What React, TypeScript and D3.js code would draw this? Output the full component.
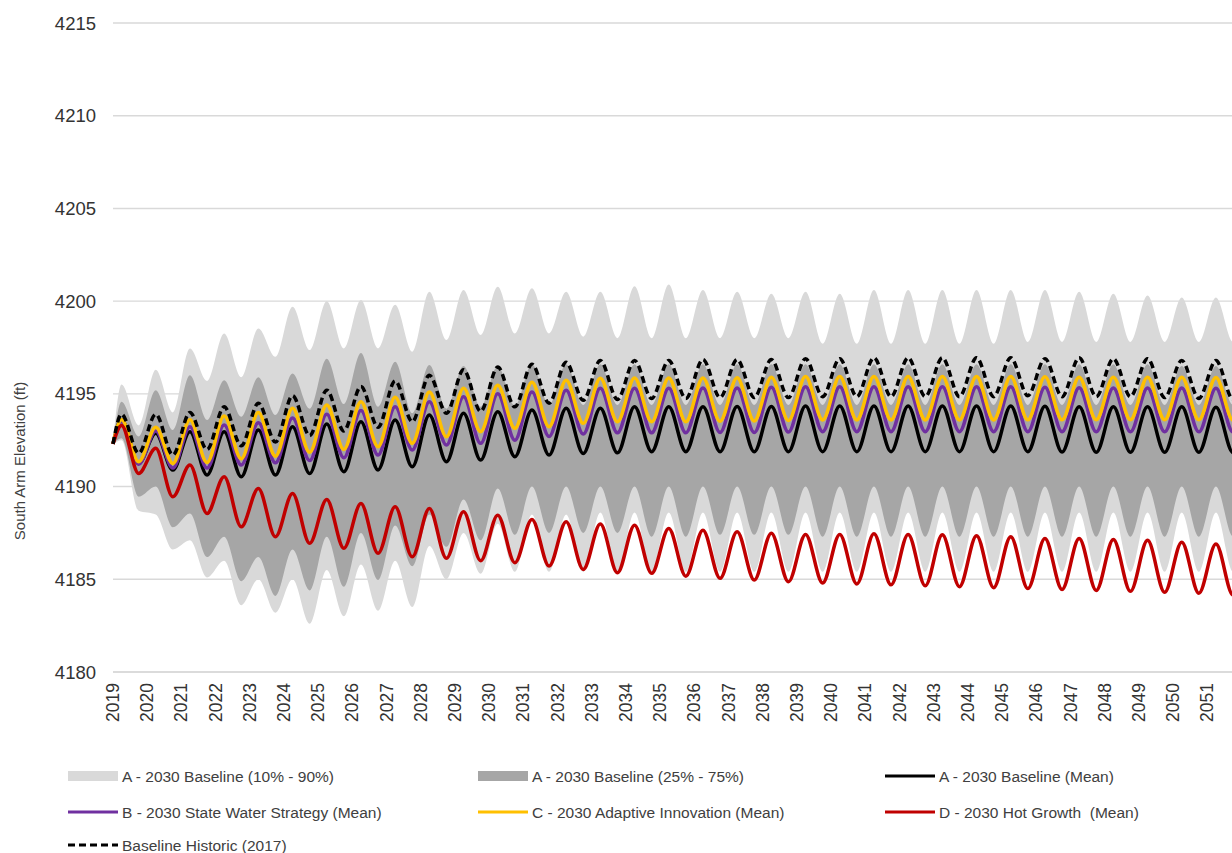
import * as d3 from "d3";

// years on the axis (data runs one year past the visible edge)
const YEARS = [
  2019, 2020, 2021, 2022, 2023, 2024, 2025, 2026, 2027, 2028, 2029, 2030, 2031, 2032, 2033, 2034, 2035,
  2036, 2037, 2038, 2039, 2040, 2041, 2042, 2043, 2044, 2045, 2046, 2047, 2048, 2049, 2050, 2051, 2052,
];
const TICK_YEARS = YEARS.slice(0, 33);
const Y_TICKS = [4180, 4185, 4190, 4195, 4200, 4205, 4210, 4215];

const START_LEVEL = 4192.3;
// fraction of the year where the spring high and the autumn low fall
const PEAK_AT = 0.25;
const TROUGH_AT = 0.75;

// yearly highs / lows
const histPeak = [4193.9, 4193.9, 4194.0, 4194.3, 4194.5, 4194.9, 4195.2, 4195.4, 4195.7, 4196.0, 4196.3, 4196.45, 4196.6, 4196.7, 4196.8, 4196.8, 4196.8, 4196.85, 4196.85, 4196.85, 4196.9, 4196.9, 4196.95, 4196.95, 4196.95, 4196.95, 4196.95, 4196.9, 4196.95, 4196.9, 4196.9, 4196.8, 4196.8, 4196.8];
const histTrough = [4191.8, 4191.7, 4192.0, 4192.2, 4192.4, 4192.75, 4193.0, 4193.2, 4193.5, 4193.95, 4194.05, 4194.3, 4194.5, 4194.65, 4194.7, 4194.75, 4194.75, 4194.8, 4194.8, 4194.8, 4194.85, 4194.85, 4194.85, 4194.85, 4194.85, 4194.85, 4194.9, 4194.85, 4194.85, 4194.85, 4194.8, 4194.75, 4194.7, 4194.7];

const aPeak = [4193.6, 4192.87, 4192.96, 4192.96, 4193.05, 4193.23, 4193.37, 4193.5, 4193.59, 4193.86, 4193.95, 4194.04, 4194.13, 4194.22, 4194.22, 4194.3, 4194.3, 4194.3, 4194.32, 4194.32, 4194.35, 4194.35, 4194.35, 4194.35, 4194.35, 4194.35, 4194.35, 4194.33, 4194.3, 4194.3, 4194.3, 4194.3, 4194.28, 4194.28];
const aTrough = [4191.25, 4190.89, 4190.62, 4190.53, 4190.62, 4190.7, 4190.8, 4190.9, 4191.07, 4191.34, 4191.43, 4191.61, 4191.7, 4191.79, 4191.82, 4191.88, 4191.88, 4191.88, 4191.88, 4191.88, 4191.88, 4191.88, 4191.88, 4191.88, 4191.88, 4191.88, 4191.88, 4191.86, 4191.85, 4191.85, 4191.85, 4191.85, 4191.83, 4191.83];

const bPeak = [4193.5, 4193.0, 4193.23, 4193.32, 4193.44, 4193.7, 4193.9, 4194.1, 4194.3, 4194.57, 4194.84, 4195.0, 4195.1, 4195.2, 4195.3, 4195.3, 4195.3, 4195.32, 4195.32, 4195.35, 4195.38, 4195.38, 4195.38, 4195.38, 4195.38, 4195.38, 4195.38, 4195.36, 4195.33, 4195.32, 4195.32, 4195.32, 4195.3, 4195.3];
const bTrough = [4191.2, 4191.0, 4191.0, 4191.16, 4191.28, 4191.4, 4191.55, 4191.7, 4191.97, 4192.24, 4192.33, 4192.5, 4192.7, 4192.83, 4192.9, 4192.9, 4192.9, 4192.92, 4192.92, 4192.94, 4192.96, 4192.96, 4192.96, 4192.96, 4192.96, 4192.96, 4192.96, 4192.96, 4192.95, 4192.95, 4192.95, 4192.95, 4192.94, 4192.94];

const cPeak = [4193.6, 4193.2, 4193.6, 4193.8, 4194.0, 4194.22, 4194.4, 4194.57, 4194.82, 4195.1, 4195.3, 4195.47, 4195.63, 4195.74, 4195.84, 4195.85, 4195.85, 4195.86, 4195.87, 4195.9, 4195.93, 4195.93, 4195.93, 4195.93, 4195.93, 4195.93, 4195.93, 4195.92, 4195.9, 4195.9, 4195.9, 4195.9, 4195.88, 4195.88];
const cTrough = [4191.34, 4191.25, 4191.3, 4191.5, 4191.64, 4191.85, 4192.0, 4192.15, 4192.33, 4192.69, 4192.96, 4193.14, 4193.23, 4193.41, 4193.5, 4193.5, 4193.5, 4193.52, 4193.54, 4193.56, 4193.59, 4193.59, 4193.59, 4193.59, 4193.59, 4193.59, 4193.6, 4193.6, 4193.6, 4193.6, 4193.6, 4193.6, 4193.58, 4193.58];

const dPeak = [4193.3, 4192.06, 4191.16, 4190.53, 4189.9, 4189.63, 4189.3, 4189.09, 4188.91, 4188.82, 4188.64, 4188.46, 4188.23, 4188.1, 4187.98, 4187.92, 4187.74, 4187.65, 4187.56, 4187.48, 4187.42, 4187.42, 4187.45, 4187.42, 4187.4, 4187.35, 4187.3, 4187.2, 4187.2, 4187.15, 4187.1, 4187.0, 4186.9, 4186.85];
const dTrough = [4190.71, 4189.45, 4188.55, 4187.83, 4187.29, 4186.94, 4186.67, 4186.4, 4186.21, 4186.13, 4186.0, 4185.89, 4185.71, 4185.53, 4185.35, 4185.32, 4185.17, 4185.05, 4184.96, 4184.87, 4184.8, 4184.75, 4184.7, 4184.65, 4184.6, 4184.55, 4184.5, 4184.45, 4184.4, 4184.35, 4184.3, 4184.25, 4184.15, 4184.1];

// baseline percentile band edges
const p90Peak = [4195.5, 4196.3, 4197.45, 4198.26, 4198.53, 4199.7, 4200.0, 4200.06, 4199.8, 4200.5, 4200.6, 4200.78, 4200.7, 4200.5, 4200.5, 4200.8, 4200.9, 4200.6, 4200.5, 4200.4, 4200.5, 4200.4, 4200.6, 4200.6, 4200.6, 4200.6, 4200.6, 4200.6, 4200.5, 4200.4, 4200.3, 4200.2, 4200.2, 4200.1];
const p90Trough = [4193.3, 4194.0, 4195.7, 4195.9, 4197.0, 4197.36, 4197.45, 4197.45, 4197.27, 4197.9, 4198.17, 4198.26, 4198.26, 4198.08, 4198.0, 4198.0, 4198.0, 4198.0, 4198.0, 4198.0, 4197.7, 4197.7, 4197.7, 4197.7, 4197.7, 4197.7, 4197.8, 4197.8, 4197.8, 4197.8, 4197.8, 4197.8, 4197.8, 4197.8];
const p75Peak = [4194.57, 4195.2, 4196.0, 4195.74, 4195.9, 4196.1, 4196.9, 4197.2, 4196.73, 4196.55, 4196.5, 4196.5, 4196.6, 4196.6, 4196.6, 4196.6, 4196.6, 4196.6, 4196.6, 4196.6, 4196.6, 4196.6, 4196.6, 4196.6, 4196.6, 4196.6, 4196.6, 4196.6, 4196.6, 4196.6, 4196.6, 4196.5, 4196.5, 4196.5];
const p75Trough = [4192.7, 4193.05, 4193.59, 4193.77, 4193.86, 4194.2, 4194.45, 4194.3, 4193.95, 4194.2, 4194.3, 4194.35, 4194.4, 4194.4, 4194.4, 4194.4, 4194.4, 4194.4, 4194.4, 4194.4, 4194.4, 4194.4, 4194.4, 4194.4, 4194.4, 4194.4, 4194.4, 4194.4, 4194.4, 4194.4, 4194.4, 4194.4, 4194.4, 4194.4];
const p25Peak = [4192.6, 4190.0, 4188.55, 4187.3, 4186.2, 4186.6, 4187.3, 4187.5, 4187.9, 4188.5, 4189.3, 4189.9, 4190.0, 4190.0, 4190.0, 4190.0, 4190.0, 4190.0, 4190.0, 4190.0, 4190.0, 4190.0, 4190.0, 4190.0, 4190.0, 4190.0, 4190.0, 4190.0, 4190.0, 4190.0, 4190.0, 4190.0, 4190.0, 4190.0];
const p25Trough = [4189.45, 4187.8, 4186.2, 4184.9, 4184.1, 4184.4, 4184.6, 4184.96, 4185.7, 4186.75, 4187.1, 4187.4, 4187.5, 4187.5, 4187.5, 4187.3, 4187.3, 4187.4, 4187.4, 4187.4, 4187.3, 4187.3, 4187.3, 4187.3, 4187.3, 4187.3, 4187.3, 4187.3, 4187.3, 4187.3, 4187.3, 4187.3, 4187.3, 4187.3];
const p10Peak = [4192.5, 4188.5, 4187.1, 4186.0, 4185.0, 4185.0, 4185.5, 4185.8, 4186.0, 4186.8, 4187.5, 4188.0, 4188.5, 4188.5, 4188.6, 4188.6, 4188.6, 4188.6, 4188.6, 4188.6, 4188.6, 4188.6, 4188.6, 4188.6, 4188.6, 4188.6, 4188.6, 4188.6, 4188.6, 4188.6, 4188.6, 4188.6, 4188.6, 4188.6];
const p10Trough = [4188.7, 4186.6, 4185.1, 4183.6, 4183.2, 4182.6, 4183.0, 4183.3, 4183.5, 4185.0, 4185.3, 4185.4, 4185.4, 4185.4, 4185.4, 4185.4, 4185.4, 4185.4, 4185.4, 4185.4, 4185.4, 4185.4, 4185.4, 4185.4, 4185.4, 4185.4, 4185.4, 4185.4, 4185.4, 4185.4, 4185.4, 4185.4, 4185.4, 4185.4];

const W = 1232;
const H = 853;
const FONT = "'Liberation Sans', Arial, sans-serif";
const DASH = "7,4";

type Pt = [number, number];

function seasonal(peaks: number[], troughs: number[]): Pt[] {
  const pts: Pt[] = [[YEARS[0], START_LEVEL]];
  YEARS.forEach((yr, i) => {
    pts.push([yr + PEAK_AT, peaks[i]]);
    pts.push([yr + TROUGH_AT, troughs[i]]);
  });
  return pts;
}

function band(loP: number[], loT: number[], hiP: number[], hiT: number[]) {
  const lo = seasonal(loP, loT);
  const hi = seasonal(hiP, hiT);
  return lo.map((p, i) => ({ t: p[0], lo: p[1], hi: hi[i][1] }));
}

const lines = [
  { name: "A - 2030 Baseline (Mean)", color: "#000000", dash: null, data: seasonal(aPeak, aTrough) },
  { name: "B - 2030 State Water Strategy (Mean)", color: "#7030a0", dash: null, data: seasonal(bPeak, bTrough) },
  { name: "C - 2030 Adaptive Innovation (Mean)", color: "#ffc000", dash: null, data: seasonal(cPeak, cTrough) },
  { name: "D - 2030 Hot Growth  (Mean)", color: "#c00000", dash: null, data: seasonal(dPeak, dTrough) },
  { name: "Baseline Historic (2017)", color: "#000000", dash: DASH, data: seasonal(histPeak, histTrough) },
];

const legend = [
  { label: "A - 2030 Baseline (10% - 90%)", kind: "area", color: "#d9d9d9", x: 68, y: 776 },
  { label: "A - 2030 Baseline (25% - 75%)", kind: "area", color: "#a6a6a6", x: 478, y: 776 },
  { label: "A - 2030 Baseline (Mean)", kind: "line", color: "#000000", x: 885, y: 776 },
  { label: "B - 2030 State Water Strategy (Mean)", kind: "line", color: "#7030a0", x: 68, y: 812 },
  { label: "C - 2030 Adaptive Innovation (Mean)", kind: "line", color: "#ffc000", x: 478, y: 812 },
  { label: "D - 2030 Hot Growth  (Mean)", kind: "line", color: "#c00000", x: 885, y: 812 },
  { label: "Baseline Historic (2017)", kind: "dash", color: "#000000", x: 68, y: 845 },
];

export default function App() {
  const x = d3.scaleLinear().domain([2019, 2052]).range([113, 113 + 33 * 34.2]);
  const y = d3.scaleLinear().domain([4180, 4215]).range([672, 23]);

  const area = d3
    .area<{ t: number; lo: number; hi: number }>()
    .x((d) => x(d.t))
    .y0((d) => y(d.lo))
    .y1((d) => y(d.hi))
    .curve(d3.curveMonotoneX);
  const line = d3
    .line<Pt>()
    .x((d) => x(d[0]))
    .y((d) => y(d[1]))
    .curve(d3.curveMonotoneX);

  const outer = band(p10Peak, p10Trough, p90Peak, p90Trough);
  const inner = band(p25Peak, p25Trough, p75Peak, p75Trough);

  return (
    <svg
      width={W}
      height={H}
      style={{ position: "absolute", left: 0, top: 0, background: "#fff" }}
      fontFamily={FONT}
    >
      {/* gridlines */}
      {Y_TICKS.map((v) => (
        <line key={v} x1={113} x2={W} y1={y(v)} y2={y(v)} stroke={v === 4180 ? "#cfcfcf" : "#d9d9d9"} strokeWidth={1.4} />
      ))}
      {Y_TICKS.map((v) => (
        <text key={"t" + v} x={96} y={y(v)} textAnchor="end" dominantBaseline="central" fontSize={18.5} fill="#333">
          {v}
        </text>
      ))}
      {TICK_YEARS.map((yr) => (
        <text
          key={yr}
          transform={`translate(${x(yr)},683) rotate(-90)`}
          textAnchor="end"
          dominantBaseline="central"
          fontSize={17.5}
          fill="#333"
        >
          {yr}
        </text>
      ))}
      <text transform="translate(19,461) rotate(-90)" textAnchor="middle" dominantBaseline="central" fontSize={15} fill="#404040">
        South Arm Elevation (ft)
      </text>

      {/* bands */}
      <path d={area(outer) ?? ""} fill="#d9d9d9" />
      <path d={area(inner) ?? ""} fill="#a6a6a6" />

      {/* series */}
      {lines.map((s) => (
        <path
          key={s.name}
          d={line(s.data) ?? ""}
          fill="none"
          stroke={s.color}
          strokeWidth={3.5}
          strokeDasharray={s.dash ?? undefined}
          strokeLinejoin="round"
        />
      ))}

      {/* legend */}
      {legend.map((l) => (
        <g key={l.label}>
          {l.kind === "area" && <rect x={l.x} y={l.y - 5} width={50} height={10} fill={l.color} />}
          {l.kind === "line" && <line x1={l.x} x2={l.x + 50} y1={l.y} y2={l.y} stroke={l.color} strokeWidth={3} />}
          {l.kind === "dash" && (
            <line x1={l.x} x2={l.x + 50} y1={l.y} y2={l.y} stroke={l.color} strokeWidth={3} strokeDasharray={DASH} />
          )}
          <text
            x={l.x + 54}
            y={l.y}
            dominantBaseline="central"
            fontSize={15.5}
            fill="#404040"
            style={{ whiteSpace: "pre" }}
          >
            {l.label}
          </text>
        </g>
      ))}
    </svg>
  );
}
